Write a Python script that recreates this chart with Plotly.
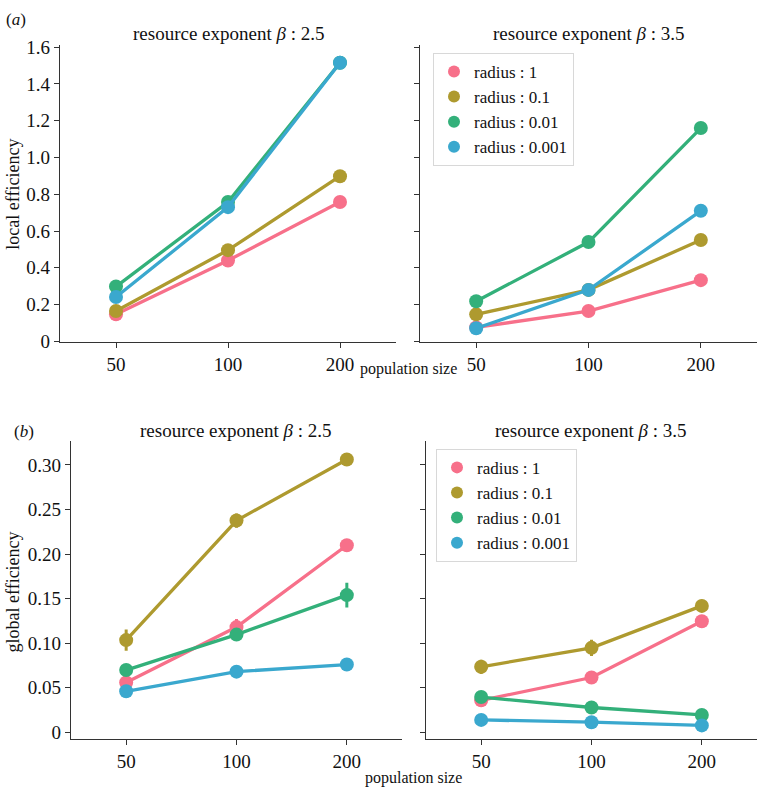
import plotly.graph_objects as go

W, H = 758, 798

populations = ["50", "100", "200"]
radius_labels = ["radius : 1", "radius : 0.1", "radius : 0.01", "radius : 0.001"]
colors = ["#f7708a", "#ae9a2f", "#33b07a", "#3aa8ce"]

# local efficiency
local_b25 = [
    [0.147, 0.44, 0.758],
    [0.165, 0.496, 0.898],
    [0.298, 0.758, 1.515],
    [0.241, 0.73, 1.515],
]
local_b35 = [
    [0.076, 0.165, 0.333],
    [0.147, 0.28, 0.551],
    [0.218, 0.54, 1.16],
    [0.071, 0.28, 0.71],
]
local_b25_err = [
    [0.005, 0.006, 0.008],
    [0.005, 0.006, 0.008],
    [0.006, 0.01, 0.01],
    [0.006, 0.01, 0.01],
]
local_b35_err = [
    [0.004, 0.005, 0.008],
    [0.004, 0.005, 0.008],
    [0.006, 0.008, 0.012],
    [0.004, 0.008, 0.02],
]

# global efficiency
global_b25 = [
    [0.0559, 0.118, 0.2098],
    [0.1034, 0.2376, 0.306],
    [0.0698, 0.1096, 0.1539],
    [0.046, 0.068, 0.076],
]
global_b35 = [
    [0.0358, 0.0614, 0.1246],
    [0.0735, 0.0947, 0.1418],
    [0.0395, 0.0278, 0.0194],
    [0.0139, 0.0113, 0.0077],
]
global_b25_err = [
    [0.002, 0.009, 0.002],
    [0.012, 0.008, 0.003],
    [0.002, 0.007, 0.014],
    [0.001, 0.002, 0.004],
]
global_b35_err = [
    [0.002, 0.003, 0.002],
    [0.008, 0.009, 0.007],
    [0.002, 0.002, 0.002],
    [0.001, 0.001, 0.001],
]

local_ticks = [0, 0.2, 0.4, 0.6, 0.8, 1.0, 1.2, 1.4, 1.6]
local_ticktext = ["0", "0.2", "0.4", "0.6", "0.8", "1.0", "1.2", "1.4", "1.6"]
global_ticks = [0, 0.05, 0.10, 0.15, 0.20, 0.25, 0.30]
global_ticktext = ["0", "0.05", "0.10", "0.15", "0.20", "0.25", "0.30"]

FONT = "Times New Roman, Liberation Serif, Times, serif"
AXC = "#333333"

def px_x(a, b):
    return [a / W, b / W]

def px_y(top, bottom):
    return [(H - bottom) / H, (H - top) / H]

fig = go.Figure()

panels = [
    ("x", "y", local_b25, local_b25_err, None),
    ("x2", "y2", local_b35, local_b35_err, "legend"),
    ("x3", "y3", global_b25, global_b25_err, None),
    ("x4", "y4", global_b35, global_b35_err, "legend2"),
]

for xa, ya, data, err, leg in panels:
    for i in range(4):
        fig.add_trace(go.Scatter(
            x=populations, y=data[i], xaxis=xa, yaxis=ya,
            mode="lines+markers",
            line=dict(color=colors[i], width=3.3),
            marker=dict(color=colors[i], size=14),
            error_y=dict(type="data", array=err[i], color=colors[i], thickness=3, width=0),
            showlegend=False,
        ))
    if leg:
        for i in range(4):
            fig.add_trace(go.Scatter(
                x=[None], y=[None], xaxis=xa, yaxis=ya, mode="markers",
                marker=dict(color=colors[i], size=14),
                name=radius_labels[i], legend=leg, showlegend=True,
            ))

def xaxis(dom, anchor):
    return dict(domain=dom, anchor=anchor, type="category", range=[-0.5, 2.5],
                showline=True, linecolor=AXC, linewidth=1.3, ticks="outside",
                ticklen=5, tickwidth=1.2, tickcolor=AXC, showgrid=False, zeroline=False,
                tickfont=dict(family=FONT, size=19, color="#111"))

def yaxis(dom, anchor, rng, tv, tt, labels=True):
    return dict(domain=dom, anchor=anchor, range=rng, tickvals=tv, ticktext=tt,
                showline=True, linecolor=AXC, linewidth=1.3, ticks="outside",
                ticklen=5, tickwidth=1.2, tickcolor=AXC, showgrid=False, zeroline=False,
                showticklabels=labels,
                tickfont=dict(family=FONT, size=19, color="#111"))

top_y = px_y(38, 342)
bot_y = px_y(443, 748)
rng_top = [-0.005, 1.611]
rng_bot = [-0.0077, 0.3268]

fig.update_layout(
    width=W, height=H, margin=dict(l=0, r=0, t=0, b=0),
    paper_bgcolor="white", plot_bgcolor="white",
    font=dict(family=FONT, color="#111"),
    xaxis=xaxis(px_x(60, 396), "y"),
    yaxis=yaxis(top_y, "x", rng_top, local_ticks, local_ticktext),
    xaxis2=xaxis(px_x(420, 757), "y2"),
    yaxis2=yaxis(top_y, "x2", rng_top, local_ticks, local_ticktext, False),
    xaxis3=xaxis(px_x(71, 402), "y3"),
    yaxis3=yaxis(bot_y, "x3", rng_bot, global_ticks, global_ticktext),
    xaxis4=xaxis(px_x(426, 757), "y4"),
    yaxis4=yaxis(bot_y, "x4", rng_bot, global_ticks, global_ticktext, False),
    legend=dict(x=433 / W, y=1 - 46 / H, xanchor="left", yanchor="top",
                bgcolor="white", bordercolor="#d8d8d8", borderwidth=1,
                font=dict(family=FONT, size=17, color="#111"),
                itemsizing="constant", tracegroupgap=0),
    legend2=dict(x=436 / W, y=1 - 451 / H, xanchor="left", yanchor="top",
                 bgcolor="white", bordercolor="#d8d8d8", borderwidth=1,
                 font=dict(family=FONT, size=17, color="#111"),
                 itemsizing="constant", tracegroupgap=0),
)

ann = []
def text(x, y, s, size=19, angle=0, xanchor="center"):
    ann.append(dict(x=x / W, y=1 - y / H, xref="paper", yref="paper", text=s,
                    showarrow=False, xanchor=xanchor, yanchor="middle", textangle=angle,
                    font=dict(family=FONT, size=size, color="#111")))

text(229, 26, "resource exponent <i>β</i> : 2.5")
text(589, 26, "resource exponent <i>β</i> : 3.5")
text(236, 432, "resource exponent <i>β</i> : 2.5")
text(591, 432, "resource exponent <i>β</i> : 3.5")
text(408, 369, "population size", size=16)
text(413, 788, "population size", size=16)
text(13, 191, "local efficiency", size=18, angle=-90)
text(13, 598, "global efficiency", size=18, angle=-90)
text(4, 12, "(<i>a</i>)", size=17, xanchor="left")
text(12, 433, "(<i>b</i>)", size=17, xanchor="left")
fig.update_layout(annotations=ann)

fig.write_html("out.html", config={"displayModeBar": False},
               post_script="document.body.style.margin='0';")
